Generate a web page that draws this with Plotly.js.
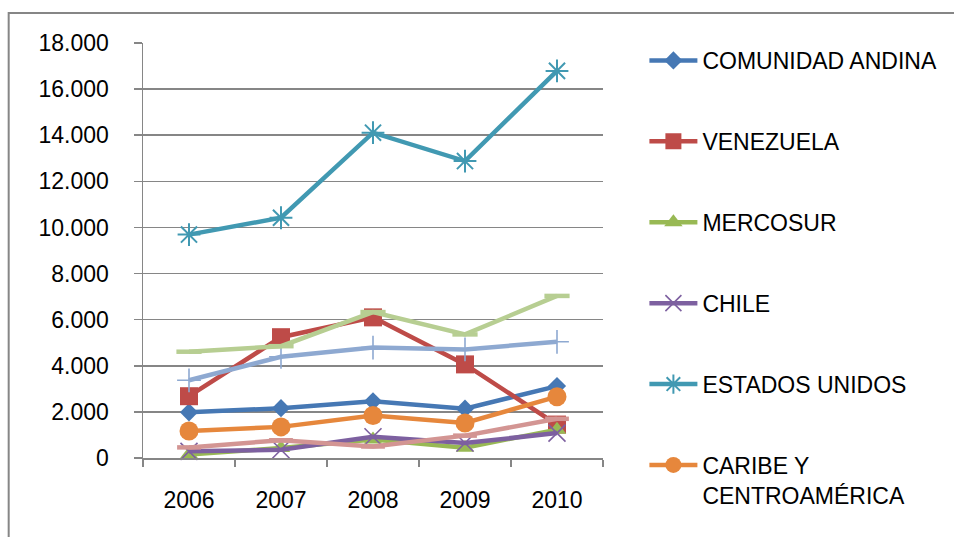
<!DOCTYPE html>
<html>
<head>
<meta charset="utf-8">
<script src="https://cdn.plot.ly/plotly-3.0.1.min.js"></script>
<style>
html,body{margin:0;padding:0;overflow:hidden;background:#fff;}
#chart{width:954px;height:537px;}
</style>
</head>
<body>
<div id="chart"></div>
<script>
var years = ['2006', '2007', '2008', '2009', '2010'];

var seriesNames = ['COMUNIDAD ANDINA', 'VENEZUELA', 'MERCOSUR', 'CHILE', 'ESTADOS UNIDOS',
  'CARIBE Y<br>CENTROAMÉRICA', 'UNIÓN EUROPEA', 'ASIA', 'RESTO DEL MUNDO'];

var comunidadAndina = [1980, 2160, 2460, 2140, 3120];
var venezuela       = [2680, 5240, 6100, 4060, 1450];
var mercosur        = [150, 430, 800, 450, 1230];
var chile           = [290, 360, 920, 650, 1080];
var estadosUnidos   = [9690, 10420, 14110, 12880, 16790];
var caribe          = [1170, 1350, 1840, 1520, 2660];
var unionEuropea    = [3370, 4390, 4790, 4710, 5040];
var asia            = [460, 770, 500, 970, 1700];
var restoMundo      = [4610, 4850, 6330, 5360, 7030];

var seriesValues = [comunidadAndina, venezuela, mercosur, chile, estadosUnidos,
  caribe, unionEuropea, asia, restoMundo];

// the reference legend is cut off after the sixth entry
var inLegend = [true, true, true, true, true, true, false, false, false];

var colors = ['#4678B4', '#BE4B48', '#98B954', '#7D60A0', '#4199B2',
  '#E6873C', '#8EA9D1', '#D39593', '#B7CE92'];
var symbols = ['diamond', 'square', 'triangle-up', 'x-thin-open', 'asterisk-open',
  'circle', 'cross-thin-open', 'line-ew-open', 'line-ew-open'];
var sizes = [14, 18, 16, 17, 19, 19, 17, 17, 18];
var mlw = [0, 0, 0, 1.6, 2, 0, 1.6, 4.5, 4.5];

var traces = seriesNames.map(function (name, i) {
  return {
    type: 'scatter',
    mode: 'lines+markers',
    x: years,
    y: seriesValues[i],
    name: name,
    showlegend: inLegend[i],
    legendgroup: 'g' + i,
    line: {color: colors[i], width: 4.5},
    marker: {symbol: symbols[i], size: sizes[i], color: colors[i],
      line: {color: colors[i], width: mlw[i]}},
    cliponaxis: false
  };
});

var fontFam = '"Liberation Sans", Arial, sans-serif';

var layout = {
  width: 954,
  height: 537,
  margin: {l: 143, r: 349, t: 43, b: 79},
  paper_bgcolor: '#ffffff',
  plot_bgcolor: '#ffffff',
  separators: ',.',
  font: {family: fontFam, size: 23, color: '#000000'},
  showlegend: true,
  legend: {
    x: 1.09, xanchor: 'left',
    y: 1.0096, yanchor: 'top',
    font: {family: fontFam, size: 23, color: '#000000'},
    tracegroupgap: 48,
    traceorder: 'grouped',
    valign: 'top',
    itemwidth: 48,
    maxheight: 520,
    bgcolor: 'rgba(0,0,0,0)'
  },
  xaxis: {
    type: 'category',
    range: [-0.5, 4.5],
    showgrid: false,
    showline: true,
    linecolor: '#868686',
    linewidth: 1.5,
    ticks: 'outside',
    tickson: 'boundaries',
    ticklen: 7,
    tickcolor: '#868686',
    tickwidth: 1.5,
    ticklabelstandoff: 21,
    tickfont: {family: fontFam, size: 23, color: '#000000'},
    fixedrange: true
  },
  yaxis: {
    range: [0, 18000],
    dtick: 2000,
    tick0: 0,
    tickformat: ',d',
    showgrid: true,
    gridcolor: '#868686',
    gridwidth: 1.5,
    zeroline: false,
    showline: true,
    linecolor: '#868686',
    linewidth: 1.5,
    ticks: 'outside',
    ticklen: 8,
    tickcolor: '#868686',
    tickwidth: 1.5,
    ticklabelstandoff: 20,
    tickfont: {family: fontFam, size: 23, color: '#000000'},
    fixedrange: true
  },
  shapes: [{
    type: 'rect', xref: 'paper', yref: 'paper',
    x0: -0.292, x1: 2, y0: -1, y1: 1.0723,
    line: {color: '#868686', width: 2},
    fillcolor: 'rgba(0,0,0,0)',
    layer: 'below'
  }]
};

Plotly.newPlot('chart', traces, layout, {staticPlot: true, displayModeBar: false});
</script>
</body>
</html>
